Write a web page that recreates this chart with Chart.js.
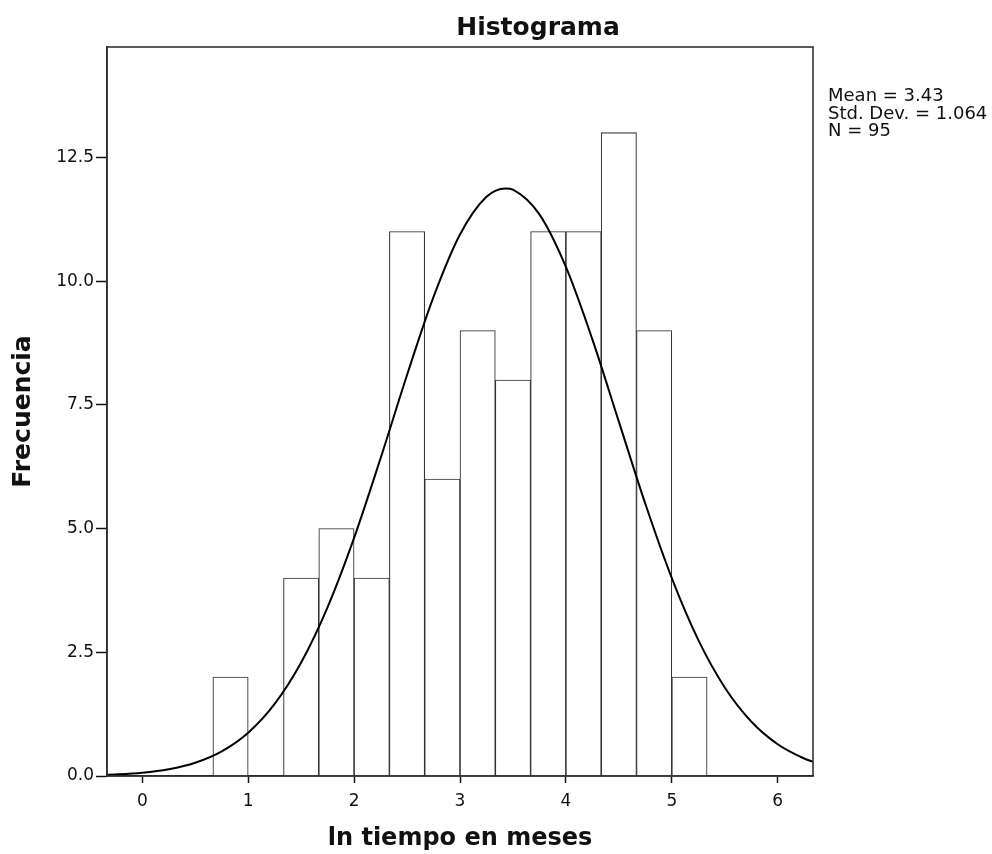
<!DOCTYPE html>
<html>
<head>
<meta charset="utf-8">
<script src="https://cdn.jsdelivr.net/npm/chart.js@4/dist/chart.umd.min.js"></script>
<style>
  html, body { margin: 0; padding: 0; background: #fff; }
  #wrap { position: relative; width: 992px; height: 854px; }
  #title {
    position: absolute; left: 438px; width: 200px; top: 12px;
    text-align: center; font: bold 25px "DejaVu Sans", sans-serif; color: #111;
  }
  #stats {
    position: absolute; left: 828px; top: 86px;
    font: 18px "DejaVu Sans", sans-serif; line-height: 17.5px; color: #111;
    white-space: pre;
  }
</style>
</head>
<body>
<div id="wrap">
  <canvas id="c" width="992" height="854"></canvas>
  <div id="title">Histograma</div>
  <div id="stats">Mean = 3.43
Std. Dev. = 1.064
N = 95</div>
</div>
<script>
// Histograma: intervalos de 1/3 de unidad
const binCenters = [0.8333, 1.1667, 1.5, 1.8333, 2.1667, 2.5, 2.8333, 3.1667, 3.5, 3.8333, 4.1667, 4.5, 4.8333, 5.1667];
const counts     = [2, 0, 4, 5, 4, 11, 6, 9, 8, 11, 11, 13, 9, 2];

// Curva normal
const curveX = [-0.333, 0, 0.25, 0.5, 0.75, 1, 1.25, 1.5, 1.75, 2, 2.25, 2.5, 2.75, 3, 3.25, 3.43,
                3.5, 3.75, 4, 4.25, 4.5, 4.75, 5, 5.25, 5.5, 5.75, 6, 6.25, 6.333];
const curveY = [0.023, 0.066, 0.137, 0.268, 0.498, 0.875, 1.456, 2.292, 3.414, 4.812, 6.42, 8.103, 9.68, 10.942, 11.704, 11.873,
                11.847, 11.348, 10.286, 8.823, 7.161, 5.5, 3.998, 2.75, 1.789, 1.102, 0.642, 0.354, 0.287];

const xTicks = [0, 1, 2, 3, 4, 5, 6];
const yTicks = [0, 2.5, 5, 7.5, 10, 12.5];

const FONT = '"DejaVu Sans", sans-serif';

// marco alrededor del área de trazado
const frame = {
  id: 'frame',
  afterDatasetsDraw(chart) {
    const { ctx, chartArea: a } = chart;
    ctx.save();
    ctx.strokeStyle = '#333';
    ctx.lineWidth = 1.6;
    ctx.strokeRect(a.left, a.top, a.right - a.left, a.bottom - a.top);
    ctx.restore();
  },
};

new Chart(document.getElementById('c'), {
  type: 'bar',
  data: {
    datasets: [
      {
        type: 'line',
        data: curveX.map((x, i) => ({ x, y: curveY[i] })),
        borderColor: '#000',
        borderWidth: 2,
        pointRadius: 0,
        cubicInterpolationMode: 'monotone',
        fill: false,
        order: 0,
      },
      {
        type: 'bar',
        data: binCenters.map((x, i) => ({ x, y: counts[i] })),
        backgroundColor: '#fff',
        borderColor: '#333',
        borderWidth: 1.1,
        barPercentage: 1,
        categoryPercentage: 1,
        order: 1,
      },
    ],
  },
  options: {
    responsive: false,
    animation: false,
    layout: { padding: { top: 47, right: 179, left: 0, bottom: 0 } },
    plugins: { legend: { display: false }, tooltip: { enabled: false }, title: { display: false } },
    scales: {
      x: {
        type: 'linear',
        offset: false,
        min: -1 / 3,
        max: 19 / 3,
        afterBuildTicks: (s) => { s.ticks = xTicks.map((v) => ({ value: v })); },
        afterFit: (s) => { s.height = 78; },
        ticks: { color: '#111', font: { family: FONT, size: 17 }, padding: 8, maxRotation: 0 },
        grid: { offset: false, drawOnChartArea: false, drawTicks: true, tickLength: 7, tickColor: '#111', tickWidth: 1.5 },
        border: { display: true, color: '#111', width: 1.5 },
        title: {
          display: true,
          text: 'ln tiempo en meses',
          color: '#111',
          font: { family: FONT, size: 24, weight: 'bold' },
          padding: { top: 0, bottom: 1 },
        },
      },
      y: {
        min: 0,
        max: 14.73,
        afterBuildTicks: (s) => { s.ticks = yTicks.map((v) => ({ value: v })); },
        afterFit: (s) => { s.width = 107; },
        ticks: { color: '#111', font: { family: FONT, size: 17 }, padding: 2, callback: (v) => v.toFixed(1) },
        grid: { drawOnChartArea: false, drawTicks: true, tickLength: 11, tickColor: '#111', tickWidth: 1.5 },
        border: { display: true, color: '#111', width: 1.5 },
        title: {
          display: true,
          text: 'Frecuencia',
          color: '#111',
          font: { family: FONT, size: 25, weight: 'bold' },
          padding: { top: 8, bottom: 0 },
        },
      },
    },
  },
  plugins: [frame],
});
</script>
</body>
</html>
